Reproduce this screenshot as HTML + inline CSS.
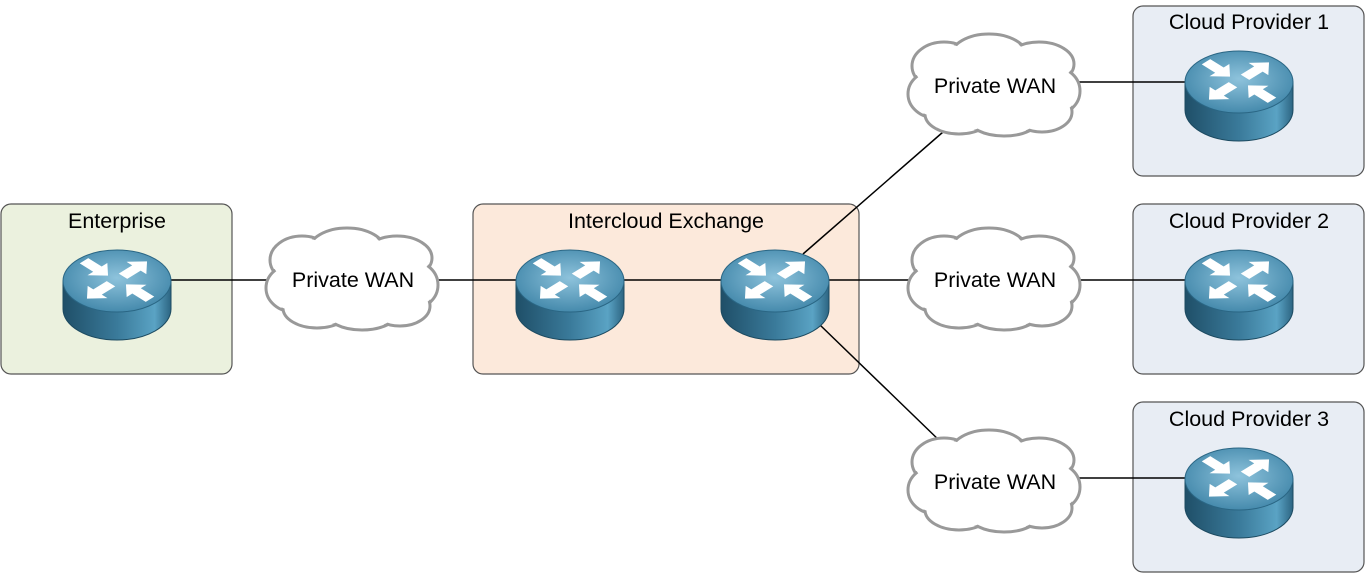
<!DOCTYPE html>
<html><head><style>
body{margin:0;background:#fff;}
svg{display:block;font-family:"Liberation Sans",sans-serif;}
</style></head><body>
<svg width="1366" height="573" viewBox="0 0 1366 573">
<defs>
<linearGradient id="side" x1="0" x2="1" y1="0" y2="0">
<stop offset="0" stop-color="#1f4f68"/><stop offset="0.5" stop-color="#3a7a9a"/><stop offset="0.85" stop-color="#5aa3c4"/><stop offset="1" stop-color="#2c6482"/>
</linearGradient>
<radialGradient id="top" cx="0.5" cy="0.45" r="0.6">
<stop offset="0" stop-color="#8ec3dc"/><stop offset="1" stop-color="#3f85a8"/>
</radialGradient>
<polygon id="ar" points="0,-6 19,-6 19,-14 34,0 19,14 19,6 0,6" fill="#fff"/>
<g id="r">
<path d="M-54,0 L-54,28 A54,31 0 0 0 54,28 L54,0 Z" fill="url(#side)" stroke="#1c4a60" stroke-width="1"/>
<ellipse cx="0" cy="0" rx="54" ry="31" fill="url(#top)" stroke="#2a6684" stroke-width="1"/>
<g transform="translate(0,-1) scale(1,0.62)">
<use href="#ar" transform="translate(-33,-31) rotate(45)"/>
<use href="#ar" transform="translate(6,-6) rotate(-45)"/>
<use href="#ar" transform="translate(-6,6) rotate(135)"/>
<use href="#ar" transform="translate(33,31) rotate(-135)"/>
</g>
</g>
<g id="c">
<g fill="#fff" stroke="#999" stroke-width="3">
<ellipse cx="-50" cy="-20" rx="32" ry="24"/><ellipse cx="-5" cy="-30" rx="38" ry="22"/><ellipse cx="45" cy="-22" rx="35" ry="22"/>
<ellipse cx="-58" cy="8" rx="28" ry="24"/><ellipse cx="60" cy="5" rx="26" ry="24"/>
<ellipse cx="-35" cy="28" rx="34" ry="20"/><ellipse cx="10" cy="32" rx="36" ry="18"/><ellipse cx="48" cy="26" rx="30" ry="20"/>
</g>
<g fill="#fff">
<ellipse cx="-50" cy="-20" rx="30" ry="22"/><ellipse cx="-5" cy="-30" rx="36" ry="20"/><ellipse cx="45" cy="-22" rx="33" ry="20"/>
<ellipse cx="-58" cy="8" rx="26" ry="22"/><ellipse cx="60" cy="5" rx="24" ry="22"/>
<ellipse cx="-35" cy="28" rx="32" ry="18"/><ellipse cx="10" cy="32" rx="34" ry="16"/><ellipse cx="48" cy="26" rx="28" ry="18"/>
<ellipse cx="0" cy="0" rx="70" ry="36"/>
</g>
</g>
</defs>
<g stroke="#555" stroke-width="1.2">
<rect x="1" y="204" width="231" height="170" rx="10" fill="#ebf1de"/>
<rect x="473" y="204" width="386" height="170" rx="10" fill="#fce9db"/>
<rect x="1133" y="6" width="231" height="170" rx="10" fill="#e8edf4"/>
<rect x="1133" y="204" width="231" height="170" rx="10" fill="#e8edf4"/>
<rect x="1133" y="402" width="231" height="170" rx="10" fill="#e8edf4"/>
</g>
<g font-size="21.5" text-anchor="middle" fill="#000">
<text x="117" y="228">Enterprise</text>
<text x="666" y="228">Intercloud Exchange</text>
<text x="1249" y="29">Cloud Provider 1</text>
<text x="1249" y="228">Cloud Provider 2</text>
<text x="1249" y="426">Cloud Provider 3</text>
</g>
<g stroke="#000" stroke-width="1.5">
<line x1="170" y1="280" x2="270" y2="280"/>
<line x1="435" y1="280" x2="520" y2="280"/>
<line x1="620" y1="280" x2="725" y2="280"/>
<line x1="825" y1="280" x2="912" y2="280"/>
<line x1="803" y1="254" x2="943" y2="132"/>
<line x1="820" y1="325" x2="943" y2="444"/>
<line x1="1075" y1="82" x2="1188" y2="82"/>
<line x1="1075" y1="280" x2="1188" y2="280"/>
<line x1="1075" y1="478" x2="1188" y2="478"/>
</g>
<use href="#c" x="352" y="280"/>
<use href="#c" x="994" y="86"/>
<use href="#c" x="994" y="280"/>
<use href="#c" x="994" y="482"/>
<g font-size="21.5" text-anchor="middle">
<text x="353" y="287">Private WAN</text>
<text x="995" y="93">Private WAN</text>
<text x="995" y="287">Private WAN</text>
<text x="995" y="489">Private WAN</text>
</g>
<use href="#r" x="117" y="281"/>
<use href="#r" x="570" y="281"/>
<use href="#r" x="775" y="281"/>
<use href="#r" x="1239" y="82"/>
<use href="#r" x="1239" y="281"/>
<use href="#r" x="1239" y="479"/>
</svg>
</body></html>
